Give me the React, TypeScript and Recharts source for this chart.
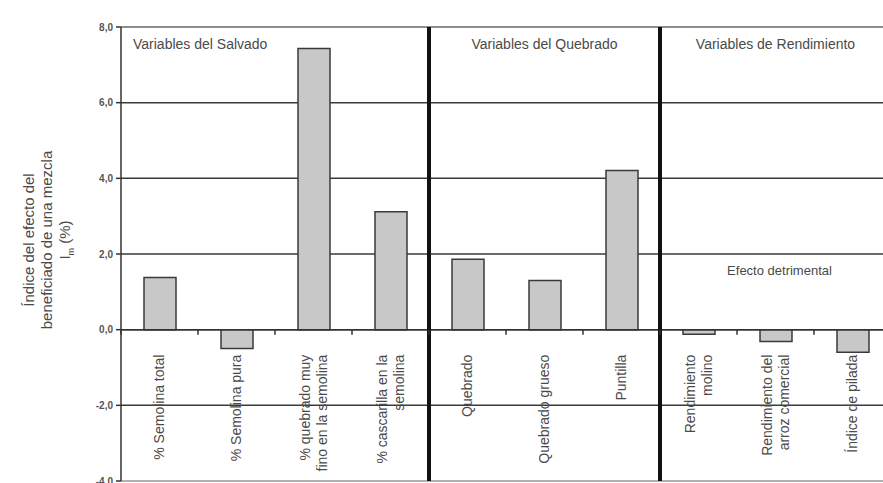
import React from 'react';
import {
  BarChart,
  Bar,
  XAxis,
  YAxis,
  CartesianGrid,
  ReferenceLine,
  ReferenceArea,
} from 'recharts';

// ---- data ----
const categories = [
  '% Semolina total',
  '% Semolina pura',
  '% quebrado muy fino en la semolina',
  '% cascarilla en la semolina',
  'Quebrado',
  'Quebrado grueso',
  'Puntilla',
  'Rendimiento molino',
  'Rendimiento del arroz comercial',
  'Índice de pilada',
];
const labelLines = [
  ['% Semolina total'],
  ['% Semolina pura'],
  ['% quebrado muy', 'fino en la semolina'],
  ['% cascarilla en la', 'semolina'],
  ['Quebrado'],
  ['Quebrado grueso'],
  ['Puntilla'],
  ['Rendimiento', 'molino'],
  ['Rendimiento del', 'arroz comercial'],
  ['Índice de pilada'],
];
const values = [1.38, -0.5, 7.43, 3.12, 1.86, 1.3, 4.21, -0.12, -0.31, -0.6];
const yTicks = [-4, -2, 0, 2, 4, 6, 8];
const groupTitles = ['Variables del Salvado', 'Variables del Quebrado', 'Variables de Rendimiento'];
const noteText = 'Efecto detrimental';
const yTitleLines = ['Índice del efecto del', 'beneficiado de una mezcla'];

const data = categories.map((name, i) => ({ name, value: values[i] }));

// ---- layout ----
const W = 900;
const H = 483;
const MARGIN = { top: 27, right: 9, bottom: 1, left: 0 };
const X_AXIS_H = 1;
const Y_AXIS_W = 121;
const Y_MIN = -4;
const Y_MAX = 8;
const PLOT_H = H - MARGIN.top - MARGIN.bottom - X_AXIS_H;
const FONT = '"Liberation Sans", Arial, Helvetica, sans-serif';
const TEXT_COLOR = '#4a4a4a';

const zeroY = MARGIN.top + (PLOT_H * (Y_MAX - 0)) / (Y_MAX - Y_MIN);
const bandHalf = (W - MARGIN.left - MARGIN.right - Y_AXIS_W) / categories.length / 2;

function renderCategoryTick(props: any) {
  const { x, payload } = props;
  let index = props.index;
  if (index === undefined || index === null) index = categories.indexOf(payload?.value);
  const lines = labelLines[index] || [String(payload?.value ?? '')];
  const fs = 14;
  const ls = 17;
  const py = zeroY + 25;
  const n = lines.length;
  return (
    <g key={`ct-${index}`}>
      <line x1={x - bandHalf} x2={x - bandHalf} y1={zeroY} y2={zeroY + 5} stroke="#333" strokeWidth={1.5} />
      <text
        transform={`rotate(-90, ${x}, ${py})`}
        textAnchor="end"
        fontSize={fs}
        fontFamily={FONT}
        fill={TEXT_COLOR}
      >
        {lines.map((ln, i) => (
          <tspan key={i} x={x} y={py + (i - (n - 1) / 2) * ls + 0.35 * fs}>
            {ln}
          </tspan>
        ))}
      </text>
    </g>
  );
}

function YTitle(props: any) {
  const vb = props.viewBox || { x: 0, y: MARGIN.top, width: Y_AXIS_W, height: PLOT_H };
  const cy = vb.y + 213;
  const xs = [vb.x + 34, vb.x + 52, vb.x + 70];
  const fs = 15;
  return (
    <g fontFamily={FONT} fill={TEXT_COLOR} fontSize={fs}>
      {yTitleLines.map((ln, i) => (
        <text key={i} x={xs[i]} y={cy} textAnchor="middle" transform={`rotate(-90, ${xs[i]}, ${cy})`}>
          {ln}
        </text>
      ))}
      <text x={xs[2]} y={cy} textAnchor="middle" transform={`rotate(-90, ${xs[2]}, ${cy})`}>
        <tspan>I</tspan>
        <tspan dy={4} fontSize={9}>m</tspan>
        <tspan dy={-4}> (%)</tspan>
      </text>
    </g>
  );
}

export default function App() {
  return (
    <div style={{ position: 'fixed', left: 0, top: 0, width: 883, height: 483, overflow: 'hidden', background: '#fff' }}>
      <BarChart width={W} height={H} data={data} margin={MARGIN} barSize={32}>
        <CartesianGrid vertical={false} stroke="#3a3a3a" strokeWidth={1.5} />
        <ReferenceLine y={Y_MAX} stroke="#9a9a9a" strokeWidth={1.5} />
        <ReferenceLine y={Y_MIN} stroke="#b0b0b0" strokeWidth={2} />
        <XAxis
          dataKey="name"
          height={X_AXIS_H}
          axisLine={false}
          tickLine={false}
          interval={0}
          tick={renderCategoryTick}
        />
        <YAxis
          width={Y_AXIS_W}
          domain={[Y_MIN, Y_MAX]}
          ticks={yTicks}
          interval={0}
          allowDataOverflow
          tickFormatter={(v: number) => v.toFixed(1).replace('.', ',')}
          tick={{ fontSize: 10, fill: '#555', fontFamily: FONT, fontWeight: 'bold' }}
          tickSize={5}
          tickMargin={3}
          axisLine={{ stroke: '#333', strokeWidth: 1.5 }}
          tickLine={{ stroke: '#333', strokeWidth: 1.5 }}
          label={<YTitle />}
        />
        <ReferenceArea
          x2={categories[3]}
          fill="none"
          fillOpacity={0}
          strokeOpacity={0}
          label={{ value: groupTitles[0], position: 'insideTopLeft', offset: 12, fill: TEXT_COLOR, fontSize: 14, fontFamily: FONT }}
        />
        <ReferenceArea
          x1={categories[4]}
          x2={categories[6]}
          fill="none"
          fillOpacity={0}
          strokeOpacity={0}
          label={{ value: groupTitles[1], position: 'insideTop', offset: 12, fill: TEXT_COLOR, fontSize: 14, fontFamily: FONT }}
        />
        <ReferenceArea
          x1={categories[7]}
          x2={categories[9]}
          fill="none"
          fillOpacity={0}
          strokeOpacity={0}
          label={{ value: groupTitles[2], position: 'insideTop', offset: 12, fill: TEXT_COLOR, fontSize: 14, fontFamily: FONT }}
        />
        <ReferenceArea
          x1={categories[7]}
          x2={categories[9]}
          y1={0}
          y2={2}
          fill="none"
          fillOpacity={0}
          strokeOpacity={0}
          label={{ value: noteText, position: 'insideTop', offset: 12, dx: 4, fill: TEXT_COLOR, fontSize: 13, fontFamily: FONT }}
        />
        <ReferenceLine y={0} stroke="#333" strokeWidth={1.5} />
        <Bar dataKey="value" fill="#c8c8c8" stroke="#3a3a3a" strokeWidth={1.5} isAnimationActive={false} />
        <ReferenceLine x={categories[4]} position="start" stroke="#111" strokeWidth={4} />
        <ReferenceLine x={categories[7]} position="start" stroke="#111" strokeWidth={4} />
      </BarChart>
    </div>
  );
}
